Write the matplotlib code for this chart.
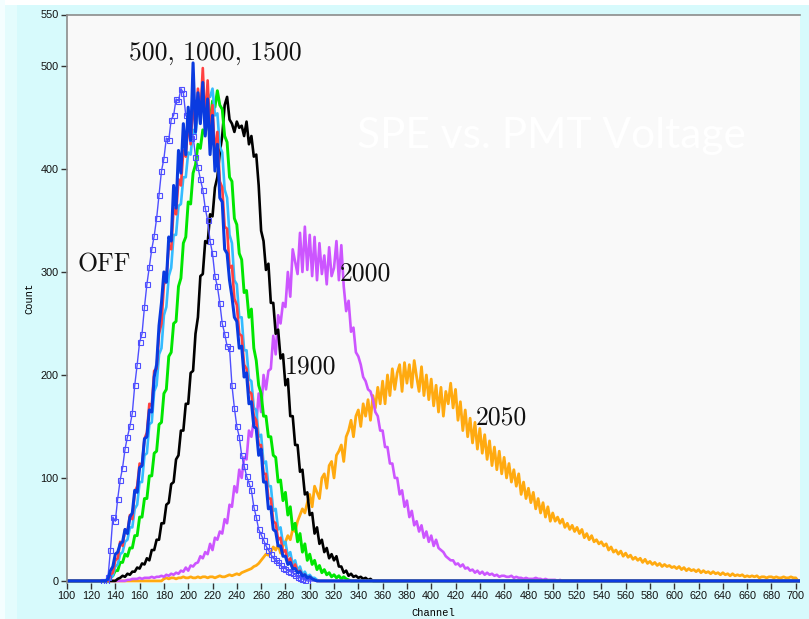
import numpy as np
import matplotlib
matplotlib.use("Agg")
import matplotlib.pyplot as plt
from matplotlib.patches import Rectangle
from matplotlib.colors import LinearSegmentedColormap

# ---- histogram data: counts per 2-channel bin, starting at the given channel ----
off_start = 130
off_counts = [0, 0, 4, 30, 62, 58, 80, 98, 110, 128,
              140, 150, 163, 190, 210, 232, 240, 266, 288, 305,
              322, 335, 352, 375, 398, 410, 430, 428, 448, 452,
              468, 466, 478, 474, 452, 448, 430, 432, 412, 402,
              390, 380, 362, 350, 330, 318, 296, 286, 270, 250,
              240, 228, 226, 190, 168, 150, 140, 122, 112, 102,
              95, 88, 72, 62, 50, 45, 40, 34, 30, 26,
              22, 20, 18, 15, 13, 12, 10, 9, 8, 6,
              4, 3, 2, 1, 0]

blue_start = 130
blue_counts = [0, 0, 2, 10, 14, 26, 28, 36, 38, 50,
               46, 62, 66, 88, 86, 110, 112, 138, 140, 166,
               164, 198, 210, 248, 270, 300, 290, 334, 330, 384,
               362, 418, 396, 444, 414, 460, 428, 503, 436, 474,
               444, 484, 432, 468, 414, 452, 398, 424, 372, 368,
               322, 318, 292, 276, 256, 252, 226, 228, 198, 202,
               172, 174, 150, 148, 122, 128, 96, 96, 70, 72,
               50, 48, 34, 34, 24, 24, 16, 18, 12, 12,
               8, 9, 5, 6, 3, 4, 2, 1, 0]

red_start = 130
red_counts = [0, 0, 0, 6, 8, 20, 22, 38, 34, 50,
              48, 64, 60, 86, 92, 114, 112, 138, 144, 172,
              170, 204, 206, 240, 250, 288, 292, 326, 322, 362,
              356, 390, 384, 418, 412, 448, 424, 466, 440, 478,
              452, 498, 444, 486, 432, 462, 412, 436, 388, 382,
              344, 342, 304, 306, 274, 268, 240, 238, 210, 206,
              184, 182, 160, 156, 132, 132, 104, 104, 80, 80,
              58, 56, 40, 42, 28, 30, 18, 22, 12, 16,
              8, 10, 5, 6, 3, 4, 2, 1, 0]

cyan_start = 130
cyan_counts = [0, 0, 0, 3, 5, 14, 16, 26, 28, 38,
               40, 52, 52, 70, 74, 96, 96, 122, 124, 152,
               154, 184, 190, 220, 226, 258, 266, 296, 304, 336,
               336, 364, 366, 392, 392, 416, 414, 438, 434, 456,
               450, 468, 462, 472, 470, 478, 452, 454, 422, 416,
               380, 372, 336, 328, 292, 288, 256, 256, 224, 224,
               196, 194, 168, 166, 140, 142, 114, 116, 92, 92,
               68, 70, 50, 52, 36, 38, 24, 28, 16, 20,
               10, 14, 6, 9, 4, 6, 3, 3, 1, 0]

green_start = 130
green_counts = [0, 0, 0, 3, 5, 10, 10, 18, 18, 26,
                24, 32, 32, 44, 44, 62, 62, 80, 80, 102,
                102, 124, 126, 152, 154, 182, 186, 218, 222, 250,
                252, 286, 294, 328, 334, 368, 366, 396, 404, 424,
                420, 438, 434, 452, 446, 466, 460, 476, 462, 458,
                432, 426, 392, 388, 352, 346, 318, 312, 280, 282,
                256, 264, 226, 214, 190, 182, 160, 160, 140, 140,
                122, 120, 96, 98, 78, 86, 64, 72, 50, 56,
                38, 46, 28, 36, 20, 26, 16, 20, 11, 15,
                8, 11, 6, 8, 4, 6, 3, 5, 2, 4,
                2, 1, 0]

black_start = 140
black_counts = [0, 2, 3, 5, 4, 7, 6, 9, 9, 13,
                12, 17, 16, 22, 20, 30, 30, 40, 40, 56,
                56, 74, 76, 94, 96, 118, 122, 146, 146, 172,
                172, 202, 204, 240, 256, 296, 298, 330, 328, 356,
                354, 382, 392, 416, 432, 462, 470, 448, 444, 436,
                446, 440, 442, 432, 446, 424, 432, 412, 414, 384,
                340, 330, 302, 308, 270, 270, 240, 244, 216, 220,
                190, 196, 160, 160, 132, 132, 106, 108, 84, 86,
                64, 66, 46, 52, 36, 40, 28, 32, 22, 26,
                20, 24, 14, 14, 8, 10, 5, 7, 4, 5,
                3, 4, 2, 3, 1, 2, 0]

purple_start = 150
purple_counts = [1, 1, 2, 2, 2, 3, 2, 3, 3, 3,
                 4, 3, 4, 4, 5, 4, 6, 5, 7, 6,
                 8, 7, 10, 9, 13, 10, 15, 14, 17, 18,
                 24, 22, 28, 26, 36, 30, 42, 40, 48, 46,
                 60, 56, 74, 72, 92, 86, 108, 100, 120, 118,
                 146, 140, 156, 152, 182, 164, 200, 186, 204, 206,
                 238, 220, 258, 250, 270, 266, 300, 276, 322, 310,
                 298, 338, 300, 344, 302, 336, 296, 334, 292, 328,
                 298, 316, 288, 324, 296, 304, 330, 292, 326, 286,
                 262, 272, 242, 246, 222, 218, 210, 198, 194, 186,
                 184, 176, 164, 160, 146, 146, 130, 130, 114, 114,
                 100, 100, 84, 88, 72, 78, 62, 68, 54, 58,
                 48, 54, 42, 48, 38, 44, 34, 40, 32, 30,
                 28, 24, 22, 20, 20, 16, 17, 14, 16, 12,
                 13, 10, 11, 8, 10, 7, 9, 6, 8, 6,
                 7, 5, 6, 4, 5, 5, 4, 4, 5, 3,
                 4, 3, 3, 2, 3, 2, 2, 2, 3, 2,
                 2, 1, 2, 1, 1, 1, 1, 0, 1, 0]

orange_start = 180
orange_counts = [2, 3, 2, 3, 3, 2, 3, 3, 4, 3,
                 3, 4, 3, 3, 4, 3, 4, 4, 3, 4,
                 4, 3, 4, 5, 4, 4, 5, 6, 5, 6,
                 7, 6, 8, 9, 10, 11, 12, 14, 15, 17,
                 20, 23, 26, 25, 28, 33, 30, 35, 27, 34,
                 38, 44, 40, 50, 48, 58, 64, 70, 66, 76,
                 84, 72, 92, 86, 80, 100, 104, 90, 112, 116,
                 100, 122, 126, 132, 116, 140, 146, 156, 140, 160,
                 166, 150, 172, 160, 176, 156, 180, 168, 188, 172,
                 194, 172, 200, 180, 206, 186, 202, 210, 184, 212,
                 192, 210, 188, 214, 198, 184, 208, 180, 200, 176,
                 196, 170, 190, 164, 188, 160, 184, 172, 192, 168,
                 186, 156, 174, 146, 166, 140, 158, 134, 154, 128,
                 148, 124, 142, 118, 136, 112, 130, 108, 126, 104,
                 120, 100, 114, 96, 108, 92, 104, 84, 96, 80,
                 90, 76, 86, 70, 80, 66, 76, 62, 72, 58,
                 66, 58, 62, 56, 60, 52, 56, 50, 54, 48,
                 52, 46, 50, 42, 46, 40, 44, 38, 40, 36,
                 38, 34, 36, 30, 33, 28, 30, 26, 29, 24,
                 27, 23, 25, 21, 23, 20, 22, 18, 21, 17,
                 19, 16, 18, 15, 17, 14, 16, 14, 15, 13,
                 14, 12, 14, 11, 13, 10, 12, 10, 11, 9,
                 11, 8, 10, 8, 9, 7, 9, 7, 8, 6,
                 8, 6, 7, 5, 7, 5, 6, 5, 6, 4,
                 5, 4, 5, 4, 5, 3, 4, 4, 3, 4,
                 4, 3, 4, 3, 3, 4, 3, 3, 4, 3,
                 3]

x_ticks = list(range(100, 701, 20))
y_ticks = [0, 100, 200, 300, 400, 500, 550]

channels = np.arange(100, 706, 2)


def full_range(start, counts):
    """Place a histogram segment on the common channel grid (zeros elsewhere)."""
    arr = np.zeros(len(channels))
    i0 = (start - channels[0]) // 2
    arr[i0:i0 + len(counts)] = counts
    return arr, slice(i0, i0 + len(counts))


fig = plt.figure(figsize=(8.09, 6.19), dpi=100, facecolor="#d7fafc")

# window chrome: white strip on top, pale band on the left, small bar top-right
fig.patches.append(Rectangle((0, 1 - 5 / 619), 1, 5 / 619, transform=fig.transFigure,
                             facecolor="white", edgecolor="none", zorder=0))
fig.patches.append(Rectangle((0, 0), 5 / 809, 1, transform=fig.transFigure,
                             facecolor="#f4feff", edgecolor="none", zorder=0))
fig.patches.append(Rectangle((5 / 809, 0), 12 / 809, 1 - 5 / 619, transform=fig.transFigure,
                             facecolor="#e4fcfd", edgecolor="none", zorder=0))
bar_ax = fig.add_axes([648 / 809, 1 - 5 / 619, 84 / 809, 4 / 619])
bar_cmap = LinearSegmentedColormap.from_list(
    "bar", ["#e8f8f9", "#c8dfe2", "#9fbcc1", "#7f9ea4", "#4f6f75"])
bar_ax.imshow(np.linspace(0, 1, 64)[None, :], aspect="auto", cmap=bar_cmap)
bar_ax.set_axis_off()

ax = fig.add_axes([66.7 / 809, 36 / 619, (800 - 66.7) / 809, (583 - 14.5) / 619])
ax.set_facecolor("#f9f9f9")
ax.set_xlim(100, 703.5)
ax.set_ylim(-2, 550)

series = [
    (orange_start, orange_counts, "#ffaa10", 2.0),
    (purple_start, purple_counts, "#cc55ff", 1.9),
    (black_start, black_counts, "#000000", 1.9),
    (green_start, green_counts, "#00e600", 2.1),
    (cyan_start, cyan_counts, "#33bbff", 1.9),
    (red_start, red_counts, "#ff4040", 1.9),
]
for start, counts, color, lw in series:
    y, _ = full_range(start, counts)
    ax.plot(channels, y, color=color, lw=lw)

off_y, off_sl = full_range(off_start, off_counts)
ax.plot(channels, off_y, color="#4f4fff", lw=1.0)
ax.plot(channels[off_sl], off_y[off_sl], linestyle="none", marker="s", markersize=3.6,
        markerfacecolor="none", markeredgecolor="#4f4fff", markeredgewidth=0.8)

blue_y, _ = full_range(blue_start, blue_counts)
ax.plot(channels, blue_y, color="#0a3be0", lw=2.2)

# frame
for side in ("right", "bottom"):
    ax.spines[side].set_visible(False)
for side in ("left", "top"):
    ax.spines[side].set_color("#8c8c8c")
    ax.spines[side].set_linewidth(1.2)

ax.set_xticks(x_ticks)
ax.set_yticks(y_ticks)
ax.tick_params(axis="both", direction="out", length=4, width=1, color="#333333",
               labelsize=7.8, labelcolor="#111111", pad=2)
for lab in ax.get_xticklabels() + ax.get_yticklabels():
    lab.set_fontfamily("Liberation Sans")

ax.set_xlabel("Channel", fontfamily="Liberation Mono", fontsize=7.5, labelpad=5)
ax.set_ylabel("Count", fontfamily="Liberation Mono", fontsize=7.5, labelpad=4)

# annotations
ann = dict(fontfamily="cmr10", fontsize=18.5, color="#111111")
ax.text(222, 506, "500, 1000, 1500", ha="center", va="baseline", **ann)
ax.text(131, 300, "OFF", ha="center", va="baseline", **ann)
ax.text(346, 292, "2000", ha="center", va="baseline", **ann)
ax.text(300.5, 201, "1900", ha="center", va="baseline", **ann)
ax.text(457.5, 152, "2050", ha="center", va="baseline", **ann)

ax.text(339, 420, "SPE vs. PMT Voltage", ha="left", va="baseline",
        fontfamily="Lato", fontsize=30.5, color="white")

fig.savefig("out.png", dpi=100, facecolor=fig.get_facecolor())
